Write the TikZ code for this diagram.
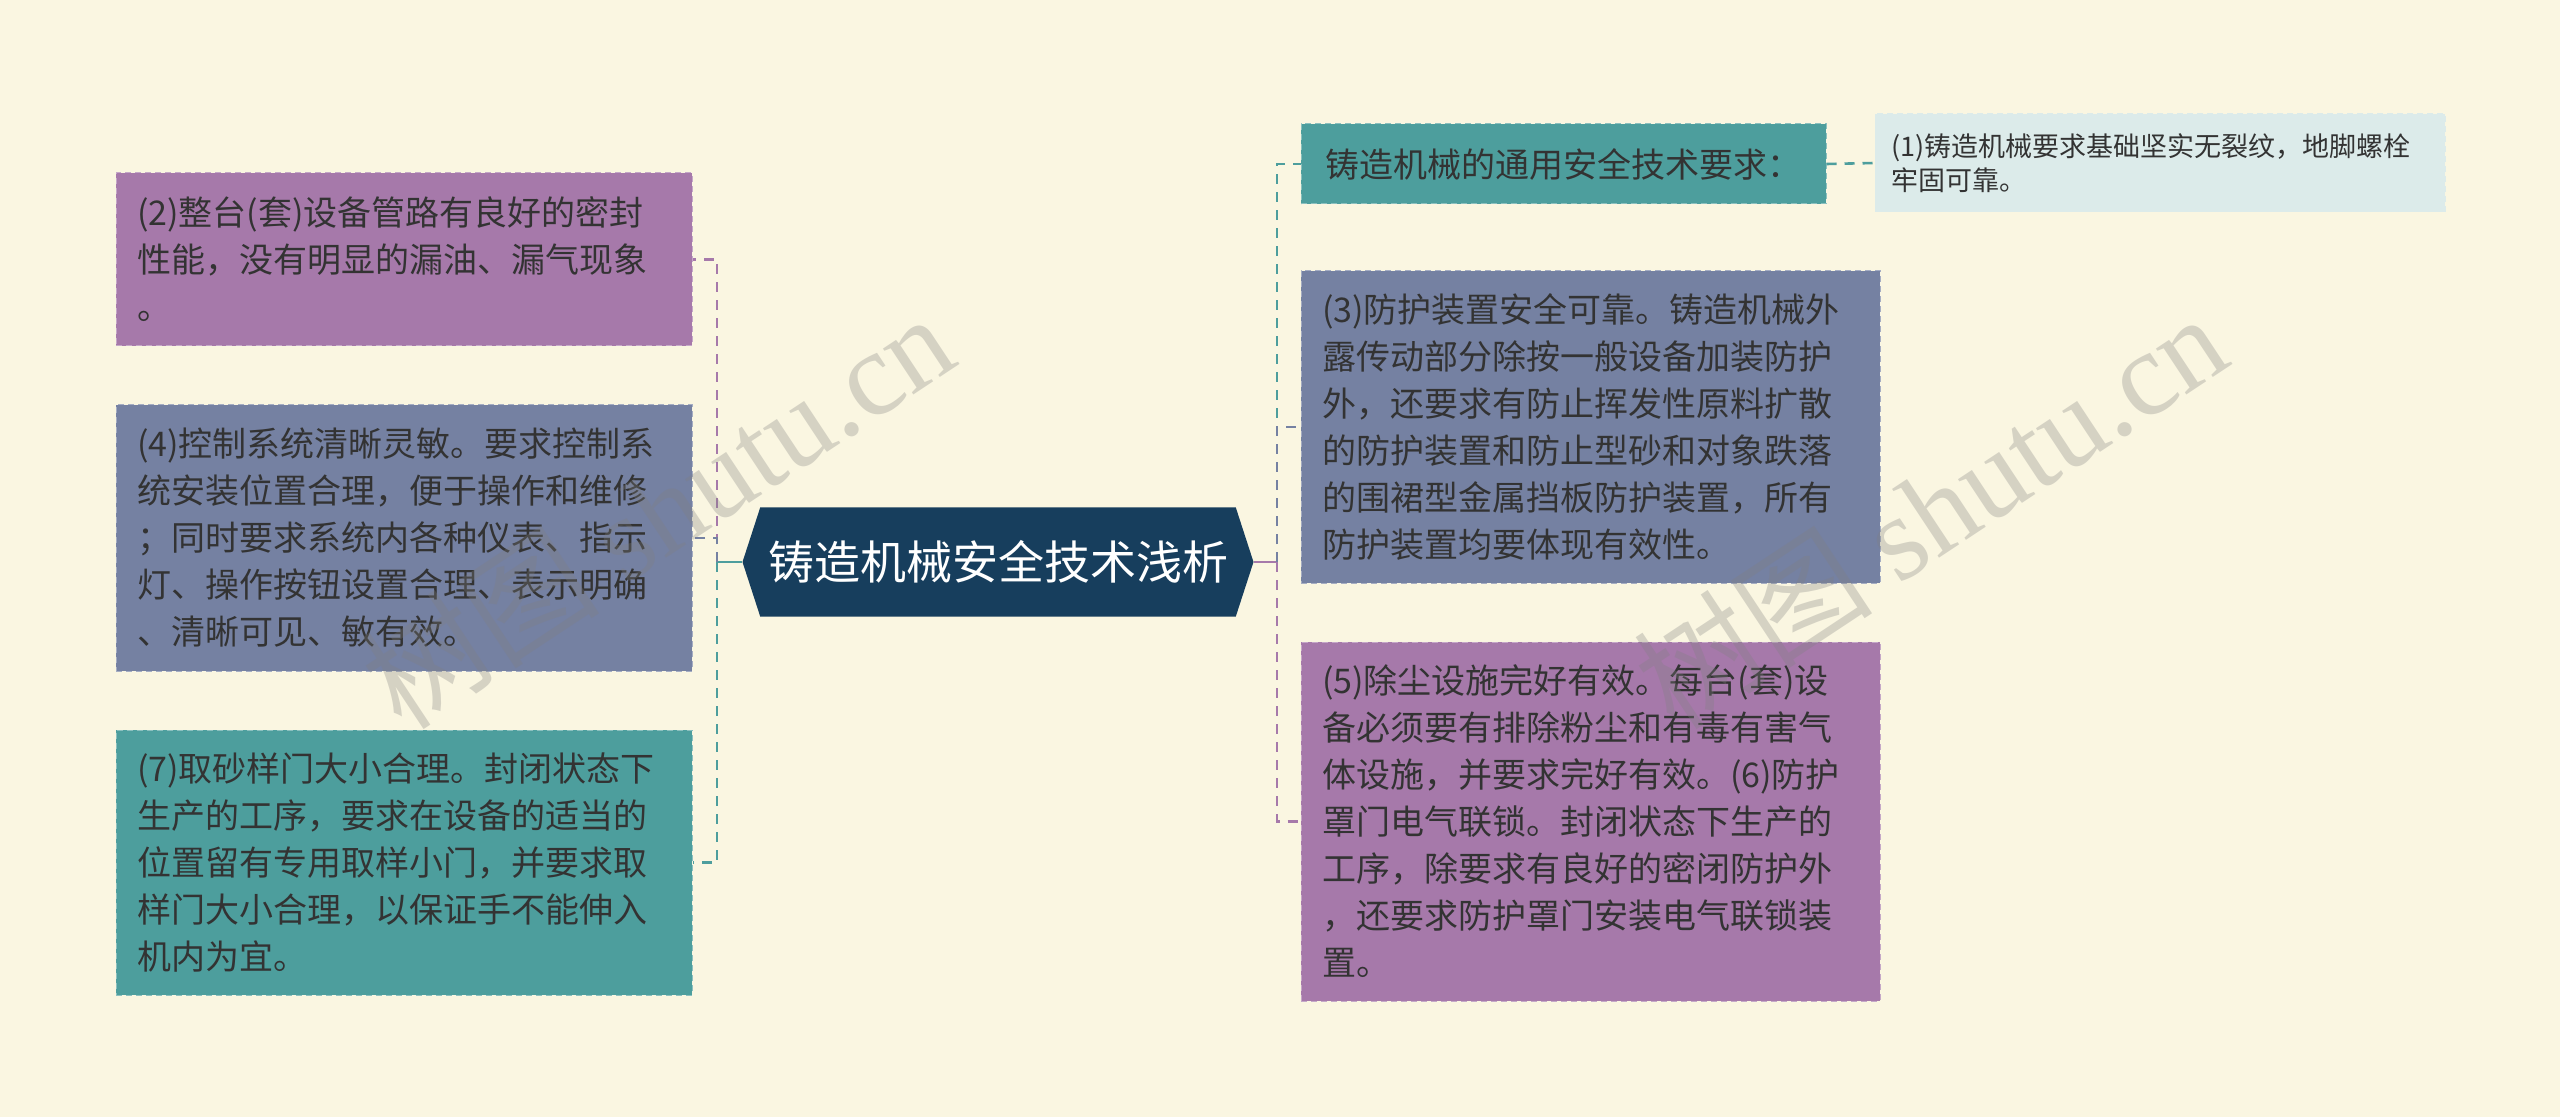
\documentclass[tikz,border=0pt]{standalone}
\usepackage{fontspec}
\setmainfont{Noto Sans CJK SC}
\newfontfamily\wmfont{Liberation Serif}
\usetikzlibrary{shapes.symbols}

\definecolor{bgcream}{HTML}{FAF6E1}
\definecolor{titleblue}{HTML}{173E5D}
\definecolor{mauve}{HTML}{A679AA}
\definecolor{slate}{HTML}{7581A2}
\definecolor{teal}{HTML}{4D9E9D}
\definecolor{paleblue}{HTML}{DCEBEA}
\definecolor{textgray}{HTML}{333333}

\tikzset{
  title/.style={signal, signal to=west and east, signal pointer angle=144,
    fill=titleblue, text=white, font=\fontsize{23}{28}\selectfont,
    minimum width=255.5pt, minimum height=54.5pt, inner sep=0pt},
  box/.style={rectangle, inner xsep=10.5pt, inner ysep=0pt, text=textgray,
    font=\fontsize{17}{23.5}\selectfont, align=left,
    draw=#1!65!white, fill=#1, line width=0.5pt, dash pattern=on 3pt off 2pt},
  leftbox/.style={box=#1, text width=267pt},
  rightbox/.style={box=#1, text width=268.5pt},
  conn/.style={line width=1.3pt, dash pattern=on 5pt off 4pt},
  stub/.style={line width=1.3pt},
  wm/.style={text=gray, opacity=0.3, font=\fontsize{60}{60}\selectfont, rotate=33.5}
}

\begin{document}
\begin{tikzpicture}[x=0.5pt, y=-0.5pt]
	\fill[bgcream] (0,0) rectangle (2560,1117);
	\useasboundingbox (0,0) rectangle (2560,1117);

	\node[title] (root) at (998, 562) {铸造机械安全技术浅析};

	\node[leftbox=mauve, minimum height=86.5pt] (b2) at (404, 259.5)
		{(2)整台(套)设备管路有良好的密封\\性能，没有明显的漏油、漏气现象\\。};
	\node[leftbox=slate, minimum height=133pt] (b4) at (404, 538)
		{(4)控制系统清晰灵敏。要求控制系\\统安装位置合理，便于操作和维修\\；同时要求系统内各种仪表、指示\\灯、操作按钮设置合理、表示明确\\、清晰可见、敏有效。};
	\node[leftbox=teal, minimum height=132.5pt] (b7) at (404, 862.5)
		{(7)取砂样门大小合理。封闭状态下\\生产的工序，要求在设备的适当的\\位置留有专用取样小门，并要求取\\样门大小合理，以保证手不能伸入\\机内为宜。};

	\node[box=teal, minimum width=262.5pt, minimum height=40pt] (b1h) at (1563.5, 164)
		{铸造机械的通用安全技术要求：};
	\node[box=paleblue, draw=paleblue, text width=269pt, inner xsep=8pt,
		font=\fontsize{13.5}{17}\selectfont, minimum height=49pt] (b1) at (2160, 163)
		{(1)铸造机械要求基础坚实无裂纹，地脚螺栓\\牢固可靠。};
	\node[rightbox=slate, minimum height=156pt] (b3) at (1590.5, 427)
		{(3)防护装置安全可靠。铸造机械外\\露传动部分除按一般设备加装防护\\外，还要求有防止挥发性原料扩散\\的防护装置和防止型砂和对象跌落\\的围裙型金属挡板防护装置，所有\\防护装置均要体现有效性。};
	\node[rightbox=mauve, minimum height=179.5pt] (b5) at (1590.5, 821.5)
		{(5)除尘设施完好有效。每台(套)设\\备必须要有排除粉尘和有毒有害气\\体设施，并要求完好有效。(6)防护\\罩门电气联锁。封闭状态下生产的\\工序，除要求有良好的密闭防护外\\，还要求防护罩门安装电气联锁装\\置。};

	\coordinate (lj) at (717, 562);
	\coordinate (rj) at (1277, 562);

	\draw[stub, teal] (root.west) -- (lj);
	\draw[stub, mauve] (root.east) -- (rj);

	\draw[conn, mauve] (lj) |- (b2.east);
	\draw[conn, slate] (lj) |- (b4.east);
	\draw[conn, teal] (lj) |- (b7.east);

	\draw[conn, teal] (rj) |- (b1h.west);
	\draw[conn, slate] (rj) |- (b3.west);
	\draw[conn, mauve] (rj) |- (b5.west);
	\draw[conn, teal] (b1h.east) -- (b1.west);

	\node[wm] (wmleft) at (657, 510) {树图 {\wmfont shutu.cn}};
	\node[wm] (wmright) at (1930, 510) {树图 {\wmfont shutu.cn}};
\end{tikzpicture}
\end{document}
